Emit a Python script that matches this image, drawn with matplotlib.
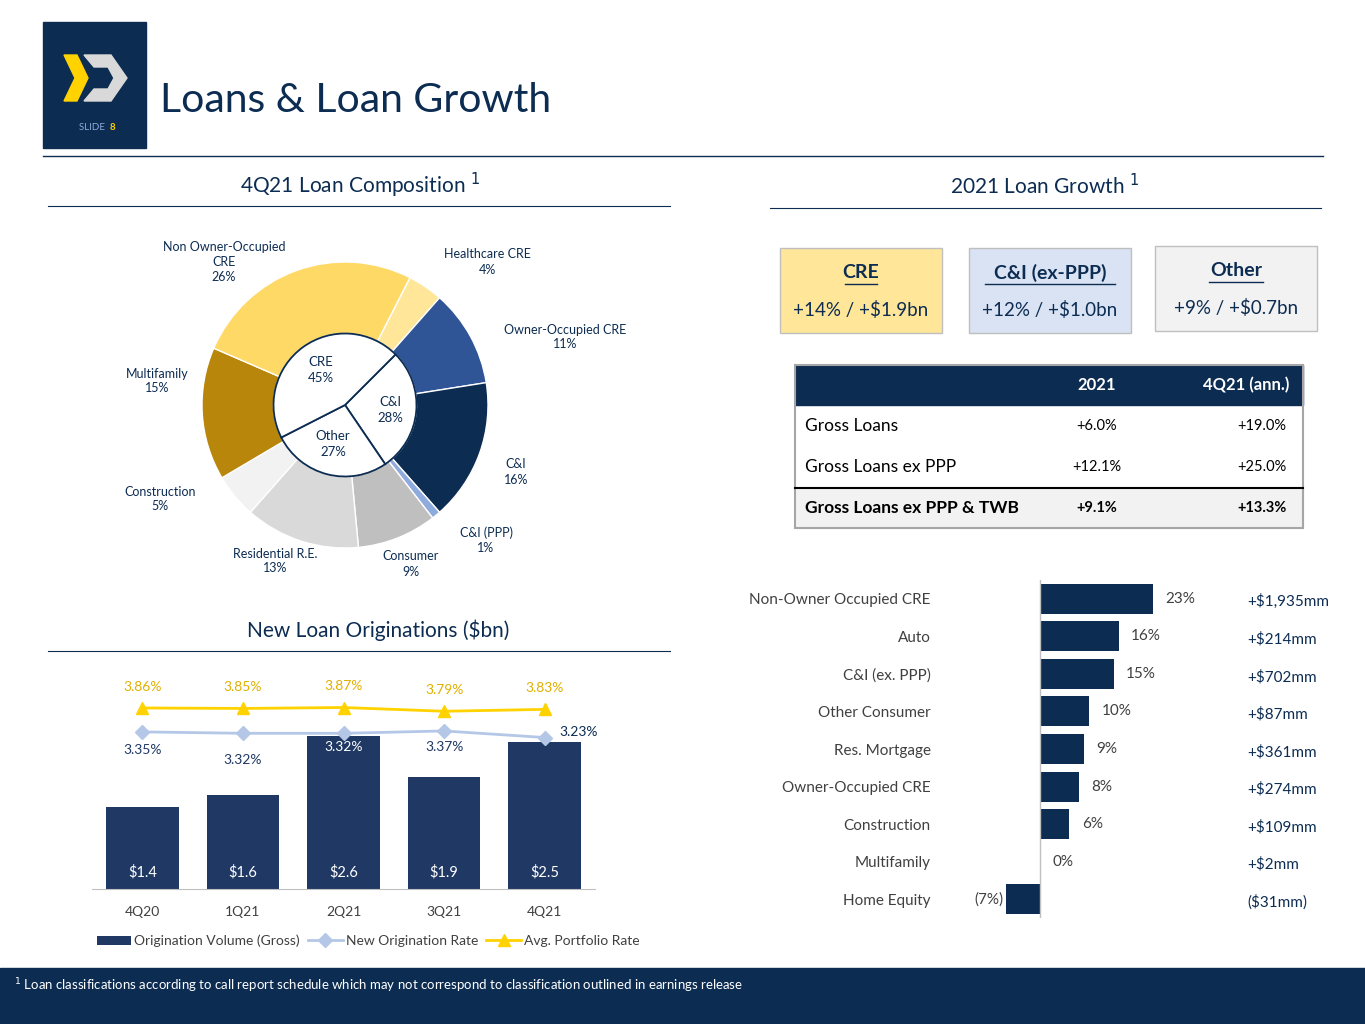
import matplotlib.pyplot as plt
from matplotlib.patches import Rectangle, Polygon
import numpy as np

plt.rcParams['font.family'] = ['Lato', 'DejaVu Sans']

NAVY = '#0c2c52'
W, H = 1365, 1024

# ---- data ----
outer_labels = ['Healthcare CRE', 'Owner-Occupied CRE', 'C&I', 'C&I (PPP)', 'Consumer',
                'Residential R.E.', 'Construction', 'Multifamily', 'Non Owner-Occupied\nCRE']
outer_vals = [4, 11, 16, 1, 9, 13, 5, 15, 26]
outer_cols = ['#ffe699', '#2f5597', '#0c2c52', '#8faadc', '#bfbfbf', '#d9d9d9', '#f2f2f2', '#b8860b', '#ffd966']
inner_labels = ['C&I', 'Other', 'CRE']
inner_vals = [28, 27, 45]

quarters = ['4Q20', '1Q21', '2Q21', '3Q21', '4Q21']
volume = [1.4, 1.6, 2.6, 1.9, 2.5]
new_rate = [3.35, 3.32, 3.32, 3.37, 3.23]
avg_rate = [3.86, 3.85, 3.87, 3.79, 3.83]

growth_cats = ['Non-Owner Occupied CRE', 'Auto', 'C&I (ex. PPP)', 'Other Consumer', 'Res. Mortgage',
               'Owner-Occupied CRE', 'Construction', 'Multifamily', 'Home Equity']
growth_pct = [23, 16, 15, 10, 9, 8, 6, 0, -7]
growth_amt = ['+$1,935mm', '+$214mm', '+$702mm', '+$87mm', '+$361mm', '+$274mm', '+$109mm', '+$2mm', '($31mm)']

table_rows = ['Gross Loans', 'Gross Loans ex PPP', 'Gross Loans ex PPP & TWB']
table_2021 = ['+6.0%', '+12.1%', '+9.1%']
table_4q = ['+19.0%', '+25.0%', '+13.3%']

fig = plt.figure(figsize=(13.65, 10.24), dpi=100)
bg = fig.add_axes([0, 0, 1, 1])
bg.set_xlim(0, W); bg.set_ylim(H, 0); bg.axis('off')


def axr(x0, y0, x1, y1):
    return fig.add_axes([x0 / W, 1 - y1 / H, (x1 - x0) / W, (y1 - y0) / H])


# ---- header ----
bg.add_patch(Rectangle((43, 22), 103, 126, color=NAVY))
bg.add_patch(Polygon([(64, 55), (77, 55), (88, 78), (77, 101), (64, 101), (75, 78)], color='#ffd200'))
bg.add_patch(Polygon([(84, 55), (111, 55), (127, 78), (111, 101), (84, 101), (94, 89), (108, 89),
                      (114, 78), (108, 67), (94, 67)], color='#d9d9d9'))
bg.text(93, 127, 'SLIDE ', color='#8faadc', fontsize=7, ha='center', va='center')
bg.text(110, 127, '8', color='#ffd200', fontsize=7, ha='left', va='center', fontweight='bold')
bg.text(160, 100, 'Loans & Loan Growth', color=NAVY, fontsize=29.5, va='center')
bg.plot([43, 1323], [156, 156], color=NAVY, lw=1)

# section headers
bg.text(360, 185, '4Q21 Loan Composition $^1$', color=NAVY, fontsize=15, ha='center', va='center')
bg.plot([48, 670], [206, 206], color=NAVY, lw=0.8)
bg.text(378, 630, 'New Loan Originations ($bn)', color=NAVY, fontsize=15, ha='center', va='center')
bg.plot([48, 670], [651, 651], color=NAVY, lw=0.8)
bg.text(1045, 186, '2021 Loan Growth $^1$', color=NAVY, fontsize=15, ha='center', va='center')
bg.plot([770, 1321], [208, 208], color=NAVY, lw=0.8)

# ---- donut ----
ax = axr(202, 262, 488, 548)
ax.pie(outer_vals, colors=outer_cols, startangle=63, counterclock=False, radius=1,
       wedgeprops=dict(width=0.5, edgecolor='white', linewidth=1))
ax.pie(inner_vals, colors=['white'] * 3, startangle=45, counterclock=False, radius=0.5,
       wedgeprops=dict(edgecolor=NAVY, linewidth=1.3))
ax.set_xlim(-1, 1); ax.set_ylim(-1, 1); ax.set_aspect('equal')
lab_pos = [(487, 262), (565, 337), (516, 472), (486, 540), (411, 564), (275, 561), (160, 499), (157, 381), (224, 262)]
for (x, y), l, v in zip(lab_pos, outer_labels, outer_vals):
    bg.text(x, y, f'{l}\n{v}%', color=NAVY, fontsize=9, ha='center', va='center', linespacing=1.3)
for (x, y), l, v in zip([(390, 410), (333, 444), (321, 370)], inner_labels, inner_vals):
    fig.text(x / W, 1 - y / H, f'{l}\n{v}%', color=NAVY, fontsize=9.5, ha='center', va='center',
             linespacing=1.3, zorder=10)

# ---- originations ----
ax = axr(92, 700, 595, 889)
xs = np.arange(len(quarters))
ax.bar(xs, volume, width=0.72, color='#1f3864', label='Origination Volume (Gross)')
ax.set_ylim(0, 189 / 58.8)
ax.set_xlim(-0.5, 4.5)
for s in ['top', 'right', 'left']:
    ax.spines[s].set_visible(False)
ax.spines['bottom'].set_color('#bfbfbf')
ax.set_yticks([])
ax.set_xticks(xs)
ax.set_xticklabels(quarters, fontsize=10, color='#404040')
ax.tick_params(axis='x', length=0, pad=12)
for x, v in zip(xs, volume):
    ax.text(x, 0.28, f'${v}', color='white', fontsize=10.5, ha='center', va='center')
ax2 = ax.twinx()
ax2.set_ylim(0, 4.03)
ax2.axis('off')
ax2.plot(xs, new_rate, color='#b4c7e7', marker='D', ms=7, lw=2, label='New Origination Rate')
ax2.plot(xs, avg_rate, color='#ffd200', marker='^', ms=8, lw=2, label='Avg. Portfolio Rate')
for x, r in zip(xs, avg_rate):
    ax2.text(x, r + 0.45, f'{r:.2f}%', color='#e0b000', fontsize=10, ha='center', va='center')
for x, r, dy in zip(xs[:4], new_rate[:4], [-0.38, -0.57, -0.3, -0.35]):
    ax2.text(x, r + dy, f'{r:.2f}%', color='#1f3864' if x != 2 else 'white', fontsize=10, ha='center', va='center')
ax2.text(4.15, 3.23 + 0.12, '3.23%', color=NAVY, fontsize=10, ha='left', va='center')
h1, l1 = ax.get_legend_handles_labels()
h2, l2 = ax2.get_legend_handles_labels()
bg.legend(h1 + h2, l1 + l2, loc='center', bbox_to_anchor=(368 / W, 1 - 941 / H), bbox_transform=fig.transFigure,
          ncol=3, frameon=False, fontsize=10, handlelength=2.5, columnspacing=0.6, handletextpad=0.2,
          labelcolor='#404040')

# ---- boxes ----
boxes = [((780, 248), '#ffe699', 'CRE', '+14% / +$1.9bn'),
         ((969, 248), '#dae3f3', 'C&I (ex-PPP)', '+12% / +$1.0bn'),
         ((1155, 246), '#f2f2f2', 'Other', '+9% / +$0.7bn')]
for (x, y), c, t, s in boxes:
    bg.add_patch(Rectangle((x, y), 162, 85, facecolor=c, edgecolor='#bfbfbf', lw=1))
    bg.text(x + 81, y + 25, t, color=NAVY, fontsize=14, fontweight='bold', ha='center', va='center')
    tw = len(t) * 5.4
    bg.plot([x + 81 - tw, x + 81 + tw], [y + 36, y + 36], color=NAVY, lw=1)
    bg.text(x + 81, y + 62, s, color=NAVY, fontsize=13.5, ha='center', va='center')

# ---- table ----
bg.add_patch(Rectangle((795, 365), 508, 40, color=NAVY))
bg.add_patch(Rectangle((795, 488), 508, 40, color='#f2f2f2'))
bg.add_patch(Rectangle((795, 365), 508, 163, facecolor='none', edgecolor='#a6a6a6', lw=1.5))
bg.plot([795, 1303], [488, 488], color='black', lw=1.5)
bg.text(1097, 385, '2021', color='white', fontsize=12, fontweight='bold', ha='center', va='center')
bg.text(1246, 385, '4Q21 (ann.)', color='white', fontsize=12, fontweight='bold', ha='center', va='center')
for i, (r, a, b) in enumerate(zip(table_rows, table_2021, table_4q)):
    y = 426 + i * 41
    fw = 'bold' if i == 2 else 'normal'
    bg.text(805, y, r, color='black', fontsize=12.5, fontweight=fw, va='center')
    bg.text(1097, y, a, color='black', fontsize=10.5, fontweight=fw, ha='center', va='center')
    bg.text(1262, y, b, color='black', fontsize=10.5, fontweight=fw, ha='center', va='center')

# ---- growth bars ----
ax = axr(1000, 580, 1160, 918)
ypos = np.arange(len(growth_cats))
ax.barh(ypos, growth_pct, height=0.8, color=NAVY)
ax.set_xlim(-40 / 4.91, 120 / 4.91)
ax.set_ylim(len(growth_cats) - 0.5, -0.5)
ax.axvline(0, color='#bfbfbf', lw=1)
for s in ax.spines.values():
    s.set_visible(False)
ax.set_xticks([])
ax.set_yticks(ypos)
ax.set_yticklabels(growth_cats, fontsize=11, color='#404040')
ax.tick_params(axis='y', length=0, pad=50)
for y, p, a in zip(ypos, growth_pct, growth_amt):
    txt = f'{p}%' if p >= 0 else f'({-p}%)'
    if p >= 0:
        ax.text(p + 2.5, y, txt, fontsize=11, color='#404040', ha='left', va='center')
    else:
        ax.text(p - 0.5, y, txt, fontsize=11, color='#404040', ha='right', va='center')
    ax.text(207 / 4.91, y + 0.08, a, fontsize=11, color=NAVY, ha='left', va='center', clip_on=False)

# ---- footer ----
bg.add_patch(Rectangle((0, 968), W, 56, color=NAVY))
bg.text(14, 986, '$^1$ Loan classifications according to call report schedule which may not correspond to classification outlined in earnings release',
        color='white', fontsize=9.5, va='center')

fig.savefig('out.png', dpi=100)
